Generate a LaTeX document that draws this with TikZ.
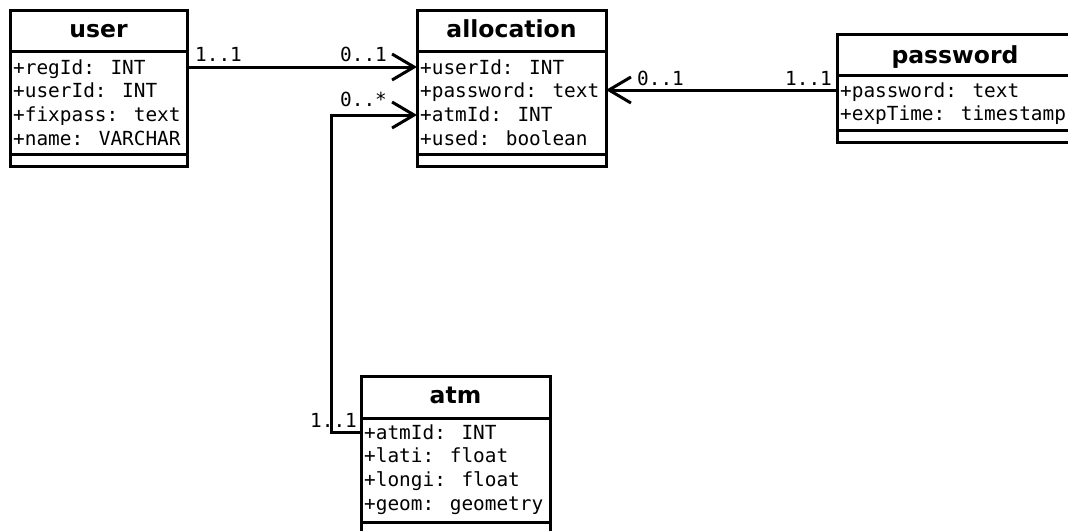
\documentclass[tikz,border=0pt]{standalone}
\usepackage{fontspec}
\setmainfont{DejaVu Sans}
\newfontfamily\monof{DejaVu Sans Mono}
\usetikzlibrary{arrows.meta}
\newcommand{\umlclass}[7]{%
  \node[box, minimum width=#4, minimum height=#5] (#1) at (#2,#3) {};
  \node[box, minimum width=#4, minimum height=#6] (#1-a) at (#1.south west) {};
  \node[box, minimum width=#4, minimum height=#7] (#1-o) at (#1-a.south west) {};
}
\begin{document}
\begin{tikzpicture}[x=1pt,y=-1pt,
  box/.style={draw, line width=3pt, inner sep=0pt, outer sep=0pt, anchor=north west},
  ttl/.style={font=\fontsize{23.5}{24}\selectfont\bfseries, anchor=base, inner sep=0pt},
  attr/.style={font=\monof\fontsize{19.4}{20}\selectfont, anchor=base west, inner sep=0pt},
  lbl/.style={font=\monof\fontsize{19.4}{20}\selectfont, anchor=base west, inner sep=0pt},
  assoc/.style={line width=3pt, -{Straight Barb[length=22pt, width=26pt, line join=miter]}}]
\useasboundingbox (0,0) rectangle (1068,530);
\fill[white] (0,0) rectangle (1068,530);
\clip (0,0) rectangle (1068,530);

% classes
\umlclass{user}{10}{10}{177pt}{41pt}{103pt}{12pt}
\umlclass{allocation}{417}{10}{189pt}{41pt}{103pt}{12pt}
\umlclass{password}{837}{34}{240pt}{41pt}{55pt}{12pt}
\umlclass{atm}{361}{376}{189pt}{42pt}{104pt}{20pt}

% titles
\node[ttl] (user-t) at (98.5,37) {user};
\node[ttl] (allocation-t) at (511.5,37) {allocation};
\node[ttl] (password-t) at (955,63) {password};
\node[ttl] (atm-t) at (455.5,403) {atm};

% attributes
\node[attr] (u1) at (13,74) {+regId: INT};
\node[attr] (u2) at (13,97.7) {+userId: INT};
\node[attr] (u3) at (13,121.4) {+fixpass: text};
\node[attr] (u4) at (13,145.1) {+name: VARCHAR};

\node[attr] (a1) at (420,74) {+userId: INT};
\node[attr] (a2) at (420,97.7) {+password: text};
\node[attr] (a3) at (420,121.4) {+atmId: INT};
\node[attr] (a4) at (420,145.1) {+used: boolean};

\node[attr] (p1) at (840,97) {+password: text};
\node[attr] (p2) at (840,120.7) {+expTime: timestamp};

\node[attr] (t1) at (364,439) {+atmId: INT};
\node[attr] (t2) at (364,462.7) {+lati: float};
\node[attr] (t3) at (364,486.4) {+longi: float};
\node[attr] (t4) at (364,510.1) {+geom: geometry};

% associations
\draw[assoc] ([yshift=-16pt]user-a.north east) -- ([yshift=-16pt]allocation-a.north west);
\draw[assoc] ([yshift=-14pt]atm-a.north west) -- ++(-30,0) |- ([yshift=-64pt]allocation-a.north west);
\draw[assoc] ([yshift=-15pt]password-a.north west) -- ([yshift=-39pt]allocation-a.north east);

% multiplicities
\node[lbl] (m1) at (195,61) {1..1};
\node[lbl] (m2) at (340,61) {0..1};
\node[lbl] (m3) at (340,106) {0..*};
\node[lbl] (m4) at (637,85) {0..1};
\node[lbl] (m5) at (785,85) {1..1};
\node[lbl] (m6) at (310,427) {1..1};
\end{tikzpicture}
\end{document}
